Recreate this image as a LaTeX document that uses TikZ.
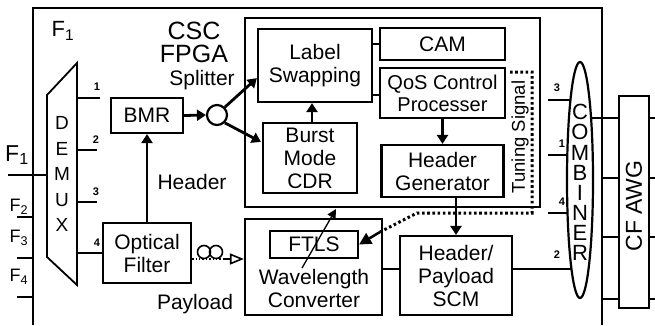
\documentclass[tikz,border=0pt]{standalone}
\usepackage{fontspec}
\setmainfont{Liberation Sans}
\usetikzlibrary{arrows.meta,shapes.geometric,backgrounds}
\begin{document}
\begin{tikzpicture}[x=1pt,y=-1pt,
  box/.style={draw,line width=2.2pt,inner sep=0pt,align=center,font=\fontsize{21}{23}\selectfont},
  txt/.style={inner sep=0pt,align=center,font=\fontsize{21}{23}\selectfont},
  arr/.style={line width=2.8pt,-{Triangle[length=9pt,width=11pt]}},
  thinarr/.style={line width=1.3pt,-{Triangle[length=9pt,width=9pt]}},
  wire/.style={line width=1.4pt},
  num/.style={inner sep=0pt,font=\bfseries\fontsize{11}{12}\selectfont},
  dots/.style={line width=3pt,dash pattern=on 2.6pt off 2.6pt}]
\useasboundingbox (0,0) rectangle (655,325);
% outer frame
\draw[line width=1.8pt] (33,325) -- (33,8) -- (602,8) -- (602,325);
\node[txt,font=\fontsize{22}{24}\selectfont] (fin) at (63,31) {F\textsubscript{1}};
% FPGA
\node[box,minimum width=295pt,minimum height=189pt] (fpga) at (392.5,112.5) {};
\node[txt,font=\fontsize{25}{23}\selectfont] (csc) at (194,42) {CSC\\FPGA};
\node[txt] (spl) at (202,80) {Splitter};
\node[box,minimum width=114pt,minimum height=73pt] (ls) at (315,65.5) {Label\\Swapping};
\node[box,minimum width=125pt,minimum height=32pt] (cam) at (442.5,44) {CAM};
\node[box,minimum width=125pt,minimum height=50pt,font=\fontsize{20}{22}\selectfont] (qos) at (442.5,93) {QoS Control\\Processer};
\node[box,minimum width=122pt,minimum height=52pt] (hg) at (442.5,171) {Header\\Generator};
\node[box,minimum width=94pt,minimum height=70pt] (bcdr) at (310,158) {Burst\\Mode\\CDR};
\node[inner sep=0pt,rotate=90,font=\fontsize{18.5}{20}\selectfont] (tun) at (520,137) {Tuning Signal};
% DEMUX
\draw[line width=1.8pt] (47,95) -- (77,63) -- (77,285) -- (47,257) -- cycle;
\node[txt,font=\fontsize{19}{25.5}\selectfont] (dmx) at (62,174) {D\\E\\M\\U\\X};
\coordinate (d1) at (77,98);
\coordinate (d2) at (77,150);
\coordinate (d3) at (77,202);
\coordinate (d4) at (77,253);
\coordinate (e1) at (100,98);
\coordinate (e2) at (97,150);
\coordinate (e3) at (97,202);
\node[num] (n1) at (97,87) {1};
\node[num] (n2) at (96,140) {2};
\node[num] (n3) at (96,192) {3};
\node[num] (n4) at (97,243) {4};
\draw[wire] (d1) -- (e1);
\draw[wire] (d2) -- (e2);
\draw[wire] (d3) -- (e3);
% inputs
\node[txt,font=\fontsize{23}{24}\selectfont] (f1) at (17,155) {F\textsubscript{1}};
\node[txt,font=\fontsize{18}{18}\selectfont] (f2) at (19,207) {F\textsubscript{2}};
\node[txt,font=\fontsize{18}{18}\selectfont] (f3) at (19,238) {F\textsubscript{3}};
\node[txt,font=\fontsize{18}{18}\selectfont] (f4) at (19,277) {F\textsubscript{4}};
\coordinate (i1) at (8,175);
\coordinate (i1e) at (47,175);
\coordinate (i2) at (17,217);
\coordinate (i2e) at (33,217);
\coordinate (i3) at (17,258);
\coordinate (i3e) at (33,258);
\coordinate (i4) at (17,297);
\coordinate (i4e) at (33,297);
\draw[wire] (i1) -- (i1e);
\draw[wire] (i2) -- (i2e);
\draw[wire] (i3) -- (i3e);
\draw[wire] (i4) -- (i4e);
% BMR, filter, splitter
\node[box,minimum width=72pt,minimum height=35pt] (bmr) at (147,115.5) {BMR};
\node[box,minimum width=88pt,minimum height=60pt] (of) at (147,253) {Optical\\Filter};
\node[draw,circle,line width=2.2pt,minimum size=20pt,inner sep=0pt] (split) at (217,115) {};
\node[txt] (hdr) at (192,182) {Header};
\node[txt] (pay) at (195,304) {Payload};
\draw[wire] (d4) -- (of.west |- d4);
\draw[arr] (of.north) -- (bmr.south);
\draw[arr] (bmr.east) -- (split.west);
\draw[arr] (split.north east) -- ([yshift=25pt]ls.south west);
\draw[arr] (split.south east) -- ([yshift=-20pt,xshift=-1pt]bcdr.north west);
\draw[arr] (bcdr.north -| 312,0) -- (ls.south -| 312,0);
\draw[line width=2.2pt] (cam.west) -- (cam.west -| ls.east);
\draw[line width=2.2pt] (qos.west |- 0,95) -- (ls.east |- 0,95);
\draw[arr] (qos.south) -- (hg.north);
% wavelength converter
\node[box,minimum width=137pt,minimum height=96pt] (wc) at (313.5,267) {};
\node[box,minimum width=88pt,minimum height=27pt] (ftls) at (314,244.5) {FTLS};
\node[txt] (wct) at (314,288.5) {Wavelength\\Converter};
\node[box,minimum width=112pt,minimum height=79pt] (scm) at (456,275.5) {Header/\\Payload\\SCM};
\draw[arr] (hg.south -| scm.north) -- (scm.north);
\coordinate (tw) at (302,268);
\coordinate (tf) at (336,209);
\draw[thinarr] (tw) -- (tf);
\draw[wire,line width=1.7pt] (wc.east |- 0,269) -- (scm.west |- 0,269);
% optical delay coil
\coordinate (oa) at (of.east |- 0,259);
\draw[line width=1.6pt] (204,252) ellipse (6.5pt and 6.5pt);
\draw[line width=1.6pt] (216,252) ellipse (6.5pt and 6.5pt);
\draw[line width=1.4pt,dotted] (oa) -- (226,259);
\draw[line width=1.6pt,-{Triangle[open,length=14pt,width=11pt]}] (224,259) -- (wc.west |- oa);
% tuning signal
\draw[dots] (510,72) -- (532,72) -- (532,213) -- (417,213) -- (380,232);
\draw[line width=2.5pt,-{Triangle[length=12pt,width=12pt]}] (380,232) -- (ftls.east);
% combiner
\node[draw,ellipse,line width=2.2pt,fill=white,minimum width=26pt,minimum height=236pt,inner sep=0pt] (comb) at (580,180) {};
\node[txt,font=\fontsize{22}{20.1}\selectfont] (combt) at (580,182.5) {C\\O\\M\\B\\I\\N\\E\\R};
\coordinate (c3) at (548,100);
\coordinate (c1) at (548,155);
\coordinate (c4) at (548,213);
\node[num] (m3) at (557,88) {3};
\node[num] (m1) at (562,144) {1};
\node[num] (m4) at (562,202) {4};
\node[num] (m2) at (557,255) {2};
% CF AWG
\node[box,minimum width=30pt,minimum height=212pt] (awg) at (634,202) {};
\node[inner sep=0pt,rotate=90,font=\fontsize{23}{24}\selectfont] (awgt) at (634,206) {CF AWG};
\coordinate (r1) at (655,118);
\coordinate (r2) at (655,178);
\coordinate (r3) at (655,237);
\coordinate (r4) at (655,299);
\coordinate (o2) at (602,178);
\coordinate (o3) at (602,237);
\coordinate (o4) at (602,299);
\draw[wire] (o2) -- (awg.west |- o2);
\draw[wire] (o3) -- (awg.west |- o3);
\draw[wire] (o4) -- (awg.west |- o4);
\draw[wire] (awg.east |- r1) -- (r1);
\draw[wire] (awg.east |- r2) -- (r2);
\draw[wire] (awg.east |- r3) -- (r3);
\draw[wire] (awg.east |- r4) -- (r4);
\begin{scope}[on background layer]
\draw[wire,line width=1.8pt] (c3) -- (comb.center |- c3);
\draw[wire,line width=1.8pt] (c1) -- (comb.center |- c1);
\draw[wire,line width=1.8pt] (c4) -- (comb.center |- c4);
\draw[wire,line width=1.8pt] (scm.east |- 0,269) -- (comb.center |- 0,269);
\draw[line width=2.4pt] (comb.center |- 0,118) -- (awg.west |- 0,118);
\end{scope}
\end{tikzpicture}
\end{document}
